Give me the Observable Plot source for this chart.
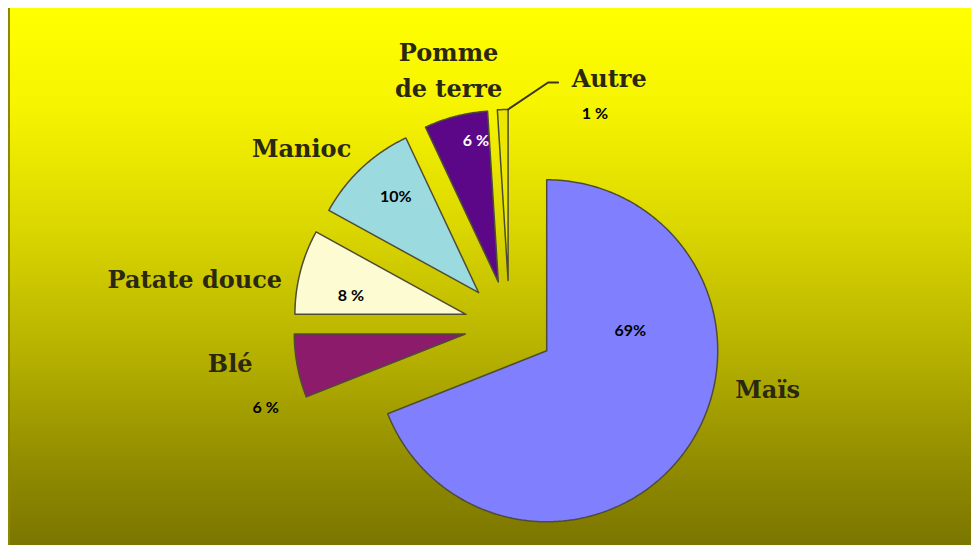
<!DOCTYPE html>
<html><head><meta charset="utf-8">
<script src="https://cdn.jsdelivr.net/npm/d3@7"></script>
<script src="https://cdn.jsdelivr.net/npm/@observablehq/plot@0.6"></script>
<style>
html,body{margin:0;padding:0;background:#fff;}
#chart{position:absolute;left:8px;top:8px;width:961px;height:537px;border-left:2px solid #8d8800;
background:linear-gradient(to bottom,#ffff00 0%,#f7f400 18%,#dcd800 40%,#b5b000 65%,#918c00 85%,#7b7600 100%);}
#chart svg{display:block;background:transparent;}
</style></head><body><div id="chart"></div>
<script>
// ---- data ----
const categories = ["Maïs", "Blé", "Patate douce", "Manioc", "Pomme de terre", "Autre"];
const values = [69, 6, 8, 10, 6, 1];
const valueLabels = ["69%", "6 %", "8 %", "10%", "6 %", "1 %"];
const nameLabels = ["Maïs", "Blé", "Patate douce", "Manioc", "Pomme\nde terre", "Autre"];

// ---- style / layout ----
const colors = ["#8080ff", "#8c1b6c", "#fdfbd2", "#9bdadf", "#5b0787", "#ebe700"];
const W = 961, H = 537, R = 171, CX = 499, CY = 317, EXPLODE = 45;
const NAME_R = 265, PCT_R = 130;
const nameNudge = {"Maïs": [39, -88], "Blé": [-19, -15], "Patate douce": [-58, 17], "Manioc": [-26.5, 13], "Pomme de terre": [5, -1], "Autre": [108, 15]};
const pctNudge = {"Maïs": [-24, -93], "Blé": [-72, 50], "Patate douce": [11, 14], "Manioc": [6, -1], "Pomme de terre": [10, -15], "Autre": [91, -37]};
const lightText = ["Pomme de terre"];

const arcs = d3.pie().sort(null)(values);
const dir = a => [Math.sin(a), Math.cos(a)]; // y up
const slices = arcs.map((a, i) => {
  const mid = (a.startAngle + a.endAngle) / 2;
  const [dx, dy] = dir(mid);
  const vx = EXPLODE * dx, vy = EXPLODE * dy;
  const n = Math.max(2, Math.ceil((a.endAngle - a.startAngle) / (Math.PI / 360)) + 1);
  const pts = [{x: vx, y: vy}];
  for (let k = 0; k < n; k++) {
    const t = a.startAngle + (a.endAngle - a.startAngle) * k / (n - 1);
    const [ux, uy] = dir(t);
    pts.push({x: vx + R * ux, y: vy + R * uy});
  }
  pts.push({x: vx, y: vy});
  const cat = categories[i];
  const nn = nameNudge[cat], pn = pctNudge[cat];
  return {
    cat, color: colors[i], pts, mid, vx, vy, end: a.endAngle,
    name: {x: NAME_R * dx + nn[0], y: NAME_R * dy - nn[1], text: nameLabels[i]},
    pct: {x: vx + PCT_R * dx + pn[0], y: vy + PCT_R * dy - pn[1], text: valueLabels[i], light: lightText.includes(cat)}
  };
});

// leader line for the smallest slice
const last = slices[slices.length - 1];
const [ex, ey] = dir(last.end);
const tip = {x: last.vx + R * ex, y: last.vy + R * ey};
const leader = [tip, {x: tip.x + 40, y: tip.y + 27}, {x: tip.x + 50, y: tip.y + 27}];

const chart = Plot.plot({
  width: W, height: H, margin: 0,
  x: {domain: [-CX, W - CX], axis: null},
  y: {domain: [CY - H, CY], axis: null},
  style: {background: "transparent", overflow: "visible"},
  marks: [
    ...slices.map(s => Plot.line(s.pts, {x: "x", y: "y", fill: s.color, stroke: "#4f4c36", strokeWidth: 1.5, strokeLinejoin: "round"})),
    Plot.line(leader, {x: "x", y: "y", stroke: "#3a3615", strokeWidth: 2}),
    Plot.text(slices.map(s => s.name), {x: "x", y: "y", text: "text", fontFamily: "DejaVu Serif", fontWeight: "bold", fontSize: 24, lineHeight: 1.5, fill: "#2b2812"}),
    Plot.text(slices.map(s => s.pct).filter(d => !d.light), {x: "x", y: "y", text: "text", fontFamily: "Lato", fontWeight: "bold", fontSize: 16, fill: "#000"}),
    Plot.text(slices.map(s => s.pct).filter(d => d.light), {x: "x", y: "y", text: "text", fontFamily: "Lato", fontWeight: "bold", fontSize: 16, fill: "#fff"})
  ]
});
document.getElementById("chart").appendChild(chart);
</script></body></html>
